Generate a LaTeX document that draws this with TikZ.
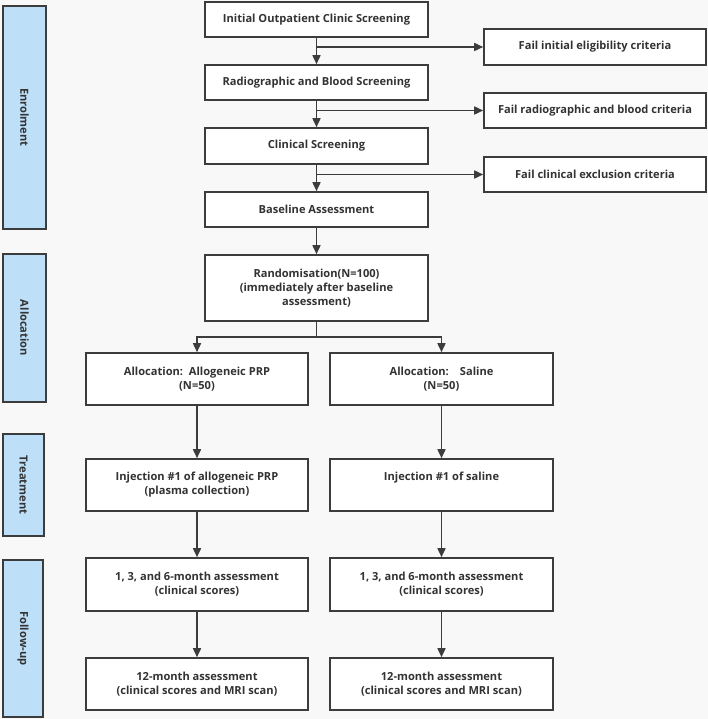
\documentclass[tikz,border=0pt]{standalone}
\usepackage{fontspec}
\setmainfont{Open Sans}
\usetikzlibrary{arrows.meta}
\definecolor{bgcol}{HTML}{F8F8F8}
\definecolor{linecol}{HTML}{3C3C3C}
\definecolor{txtcol}{HTML}{333333}
\definecolor{stagecol}{HTML}{BDDFF8}
\begin{document}
\begin{tikzpicture}[x=1pt,y=-1pt,
    box/.style={draw=linecol, fill=white, line width=1.6pt, text=txtcol, align=center,
      font=\fontsize{11.1}{14}\selectfont\bfseries, inner sep=2pt},
    stage/.style={draw=linecol, fill=stagecol, line width=1.6pt, text=txtcol, rotate=-90,
      font=\fontsize{11.1}{14}\selectfont\bfseries, inner sep=0pt},
    arr/.style={draw=linecol, line width=1.6pt, -{Triangle[width=8pt,length=9pt]}},
    ln/.style={draw=linecol, line width=1.6pt}]
    \path[fill=bgcol] (0,0) rectangle (708,719);
    \useasboundingbox (0,0) rectangle (708,719);

    \node[stage, minimum width=223, minimum height=43] (enrol) at (24.5,117.5) {Enrolment};
    \node[stage, minimum width=148, minimum height=43] (alloc) at (24.5,328) {Allocation};
    \node[stage, minimum width=102, minimum height=41] (treat) at (23.5,485) {Treatment};
    \node[stage, minimum width=157, minimum height=40] (follow) at (23,638.5) {Follow-up};

    \node[box, minimum width=223, minimum height=35] (init) at (316.5,19.5) {Initial Outpatient Clinic Screening};
    \node[box, minimum width=223, minimum height=35] (radio) at (316.5,82.5) {Radiographic and Blood Screening};
    \node[box, minimum width=223, minimum height=36] (clin) at (316.5,146) {Clinical Screening};
    \node[box, minimum width=223, minimum height=35] (base) at (316.5,209.5) {Baseline Assessment};

    \node[box, minimum width=222, minimum height=36] (failA) at (595,47) {Fail initial eligibility criteria};
    \node[box, minimum width=222, minimum height=35] (failB) at (595,110.5) {Fail radiographic and blood criteria};
    \node[box, minimum width=222, minimum height=35] (failC) at (595,174.5) {Fail clinical exclusion criteria};

    \node[box, minimum width=223, minimum height=66] (rand) at (316.5,288)
      {Randomisation(N=100)\\(immediately after baseline\\assessment)};

    \node[box, minimum width=222, minimum height=52] (allocP) at (197,379) {Allocation:\ \ Allogeneic PRP\\(N=50)};
    \node[box, minimum width=223, minimum height=52] (allocS) at (441.5,379) {Allocation:\quad Saline\\(N=50)};

    \node[box, minimum width=222, minimum height=52] (injP) at (197,485) {Injection \#1 of allogeneic PRP\\(plasma collection)};
    \node[box, minimum width=223, minimum height=52] (injS) at (441.5,485) {Injection \#1 of saline\\\strut};

    \node[box, minimum width=222, minimum height=53] (sixP) at (197,584.5) {1, 3, and 6-month assessment\\(clinical scores)};
    \node[box, minimum width=223, minimum height=53] (sixS) at (441.5,584.5) {1, 3, and 6-month assessment\\(clinical scores)};

    \node[box, minimum width=222, minimum height=52] (yearP) at (197,684) {12-month assessment\\(clinical scores and MRI scan)};
    \node[box, minimum width=223, minimum height=52] (yearS) at (441.5,684) {12-month assessment\\(clinical scores and MRI scan)};

    \draw[arr] (init) -- (radio);
    \draw[arr] (radio) -- (clin);
    \draw[arr] (clin) -- (base);
    \draw[arr] (base) -- (rand);
    \draw[arr] (init.south |- failA.west) -- (failA.west);
    \draw[arr] (radio.south |- failB.west) -- (failB.west);
    \draw[arr] (clin.south |- failC.west) -- (failC.west);

    \coordinate (split) at (316.5,337);
    \draw[ln] (rand.south) -- (split);
    \draw[arr] (split) -| (allocP.north);
    \draw[arr] (split) -| (allocS.north);

    \draw[arr] (allocP) -- (injP);
    \draw[arr] (allocS) -- (injS);
    \draw[arr] (injP) -- (sixP);
    \draw[arr] (injS) -- (sixS);
    \draw[arr] (sixP) -- (yearP);
    \draw[arr] (sixS) -- (yearS);

  \end{tikzpicture}
\end{document}
